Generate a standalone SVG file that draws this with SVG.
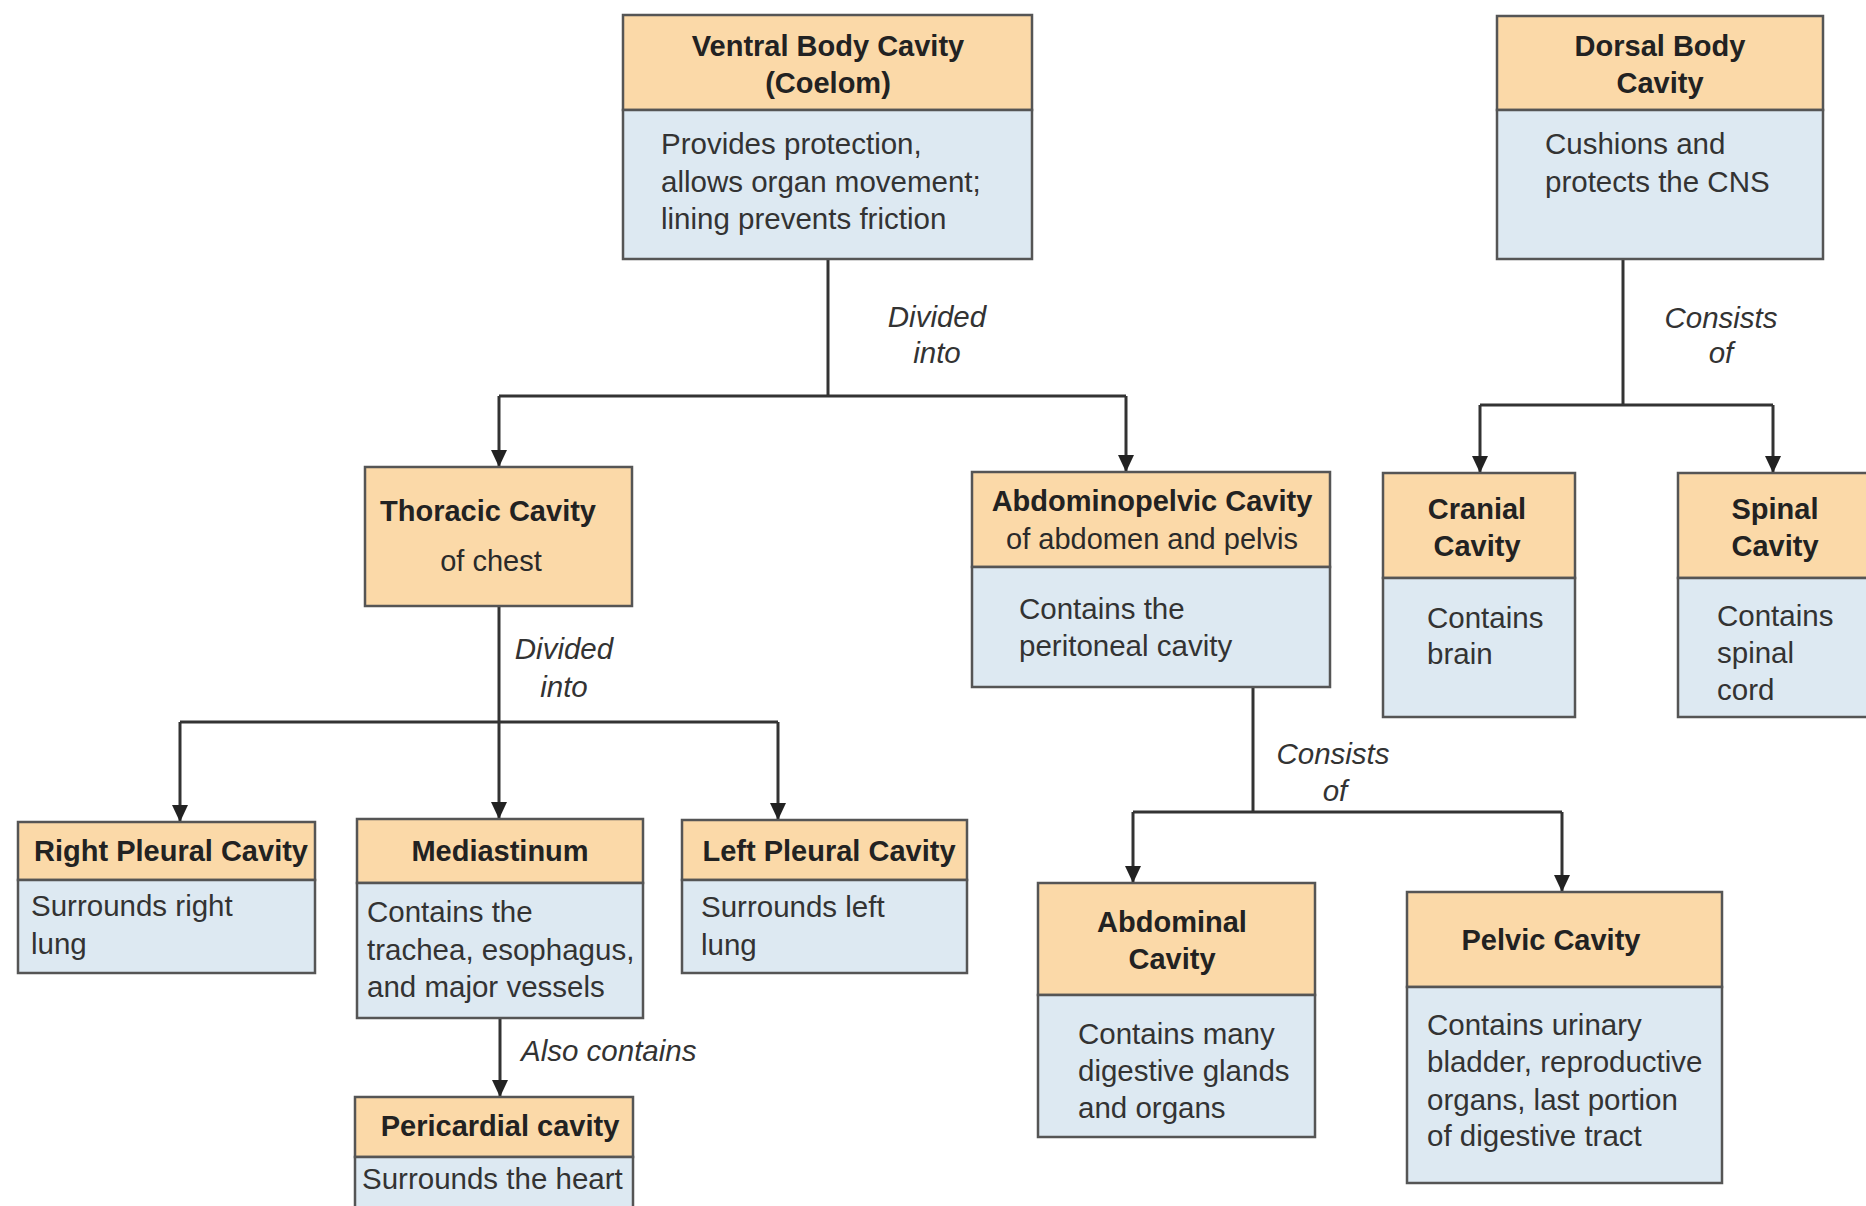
<svg xmlns="http://www.w3.org/2000/svg" width="1866" height="1206" viewBox="0 0 1866 1206">
<style>
.hd{fill:#fbd9a8;stroke:#555;stroke-width:2.5}
.bd{fill:#dde9f2;stroke:#555;stroke-width:2.5}
.t{font-family:"Liberation Sans",Arial,sans-serif;font-size:29px;fill:#222;font-weight:bold;text-anchor:middle}
.s{font-family:"Liberation Sans",Arial,sans-serif;font-size:29px;fill:#2a2a2a;text-anchor:middle}
.b{font-family:"Liberation Sans",Arial,sans-serif;font-size:29.5px;fill:#333}
.l{font-family:"Liberation Sans",Arial,sans-serif;font-size:29.5px;fill:#333;font-style:italic}
.c{fill:none;stroke:#333;stroke-width:3}
</style>
<defs>
<marker id="ah" markerUnits="userSpaceOnUse" markerWidth="18" markerHeight="18" refX="17" refY="8" orient="auto" viewBox="0 0 18 16">
<path d="M0,0 L17,8 L0,16 z" fill="#222"/>
</marker>
</defs>
<rect width="1866" height="1206" fill="#ffffff"/>

<g id="connectors">
<path class="c" d="M828,259 V396"/>
<path class="c" d="M499,396 H1126"/>
<path class="c" d="M499,396 V467" marker-end="url(#ah)"/>
<path class="c" d="M1126,396 V472" marker-end="url(#ah)"/>
<path class="c" d="M499,606 V819" marker-end="url(#ah)"/>
<path class="c" d="M180,722 H778"/>
<path class="c" d="M180,722 V822" marker-end="url(#ah)"/>
<path class="c" d="M778,722 V820" marker-end="url(#ah)"/>
<path class="c" d="M500,1018 V1097" marker-end="url(#ah)"/>
<path class="c" d="M1623,259 V405"/>
<path class="c" d="M1480,405 H1773"/>
<path class="c" d="M1480,405 V473" marker-end="url(#ah)"/>
<path class="c" d="M1773,405 V473" marker-end="url(#ah)"/>
<path class="c" d="M1253,687 V812"/>
<path class="c" d="M1133,812 H1562"/>
<path class="c" d="M1133,812 V883" marker-end="url(#ah)"/>
<path class="c" d="M1562,812 V892" marker-end="url(#ah)"/>
<text class="l" x="937" y="327" text-anchor="middle">Divided</text>
<text class="l" x="937" y="363" text-anchor="middle">into</text>
<text class="l" x="564" y="659" text-anchor="middle">Divided</text>
<text class="l" x="564" y="697" text-anchor="middle">into</text>
<text class="l" x="1721" y="328" text-anchor="middle">Consists</text>
<text class="l" x="1721" y="363" text-anchor="middle">of</text>
<text class="l" x="1333" y="764" text-anchor="middle">Consists</text>
<text class="l" x="1335" y="801" text-anchor="middle">of</text>
<text class="l" x="521" y="1061">Also contains</text>
</g>

<g id="ventral">
<rect class="hd" x="623" y="15" width="409" height="95"/>
<rect class="bd" x="623" y="110" width="409" height="149"/>
<text class="t" x="828" y="56">Ventral Body Cavity</text>
<text class="t" x="828" y="93">(Coelom)</text>
<text class="b" x="661" y="154">Provides protection,</text>
<text class="b" x="661" y="192">allows organ movement;</text>
<text class="b" x="661" y="229">lining prevents friction</text>
</g>

<g id="dorsal">
<rect class="hd" x="1497" y="16" width="326" height="94"/>
<rect class="bd" x="1497" y="110" width="326" height="149"/>
<text class="t" x="1660" y="56">Dorsal Body</text>
<text class="t" x="1660" y="93">Cavity</text>
<text class="b" x="1545" y="154">Cushions and</text>
<text class="b" x="1545" y="192">protects the CNS</text>
</g>

<g id="thoracic">
<rect class="hd" x="365" y="467" width="267" height="139"/>
<text class="t" x="488" y="521">Thoracic Cavity</text>
<text class="s" x="491" y="571">of chest</text>
</g>

<g id="abdominopelvic">
<rect class="hd" x="972" y="472" width="358" height="95"/>
<rect class="bd" x="972" y="567" width="358" height="120"/>
<text class="t" x="1152" y="511">Abdominopelvic Cavity</text>
<text class="s" x="1152" y="549">of abdomen and pelvis</text>
<text class="b" x="1019" y="619">Contains the</text>
<text class="b" x="1019" y="656">peritoneal cavity</text>
</g>

<g id="cranial">
<rect class="hd" x="1383" y="473" width="192" height="105"/>
<rect class="bd" x="1383" y="578" width="192" height="139"/>
<text class="t" x="1477" y="519">Cranial</text>
<text class="t" x="1477" y="556">Cavity</text>
<text class="b" x="1427" y="628">Contains</text>
<text class="b" x="1427" y="664">brain</text>
</g>

<g id="spinal">
<rect class="hd" x="1678" y="473" width="200" height="105"/>
<rect class="bd" x="1678" y="578" width="200" height="139"/>
<text class="t" x="1775" y="519">Spinal</text>
<text class="t" x="1775" y="556">Cavity</text>
<text class="b" x="1717" y="626">Contains</text>
<text class="b" x="1717" y="663">spinal</text>
<text class="b" x="1717" y="700">cord</text>
</g>

<g id="right-pleural">
<rect class="hd" x="18" y="822" width="297" height="58"/>
<rect class="bd" x="18" y="880" width="297" height="93"/>
<text class="t" x="171" y="861">Right Pleural Cavity</text>
<text class="b" x="31" y="916">Surrounds right</text>
<text class="b" x="31" y="954">lung</text>
</g>

<g id="mediastinum">
<rect class="hd" x="357" y="819" width="286" height="64"/>
<rect class="bd" x="357" y="883" width="286" height="135"/>
<text class="t" x="500" y="861">Mediastinum</text>
<text class="b" x="367" y="922">Contains the</text>
<text class="b" x="367" y="960">trachea, esophagus,</text>
<text class="b" x="367" y="997">and major vessels</text>
</g>

<g id="left-pleural">
<rect class="hd" x="682" y="820" width="285" height="60"/>
<rect class="bd" x="682" y="880" width="285" height="93"/>
<text class="t" x="829" y="861">Left Pleural Cavity</text>
<text class="b" x="701" y="917">Surrounds left</text>
<text class="b" x="701" y="955">lung</text>
</g>

<g id="pericardial">
<rect class="hd" x="355" y="1097" width="278" height="60"/>
<rect class="bd" x="355" y="1157" width="278" height="70"/>
<text class="t" x="500" y="1136">Pericardial cavity</text>
<text class="b" x="362" y="1189">Surrounds the heart</text>
</g>

<g id="abdominal">
<rect class="hd" x="1038" y="883" width="277" height="112"/>
<rect class="bd" x="1038" y="995" width="277" height="142"/>
<text class="t" x="1172" y="932">Abdominal</text>
<text class="t" x="1172" y="969">Cavity</text>
<text class="b" x="1078" y="1044">Contains many</text>
<text class="b" x="1078" y="1081">digestive glands</text>
<text class="b" x="1078" y="1118">and organs</text>
</g>

<g id="pelvic">
<rect class="hd" x="1407" y="892" width="315" height="95"/>
<rect class="bd" x="1407" y="987" width="315" height="196"/>
<text class="t" x="1551" y="950">Pelvic Cavity</text>
<text class="b" x="1427" y="1035">Contains urinary</text>
<text class="b" x="1427" y="1072">bladder, reproductive</text>
<text class="b" x="1427" y="1110">organs, last portion</text>
<text class="b" x="1427" y="1146">of digestive tract</text>
</g>
</svg>
